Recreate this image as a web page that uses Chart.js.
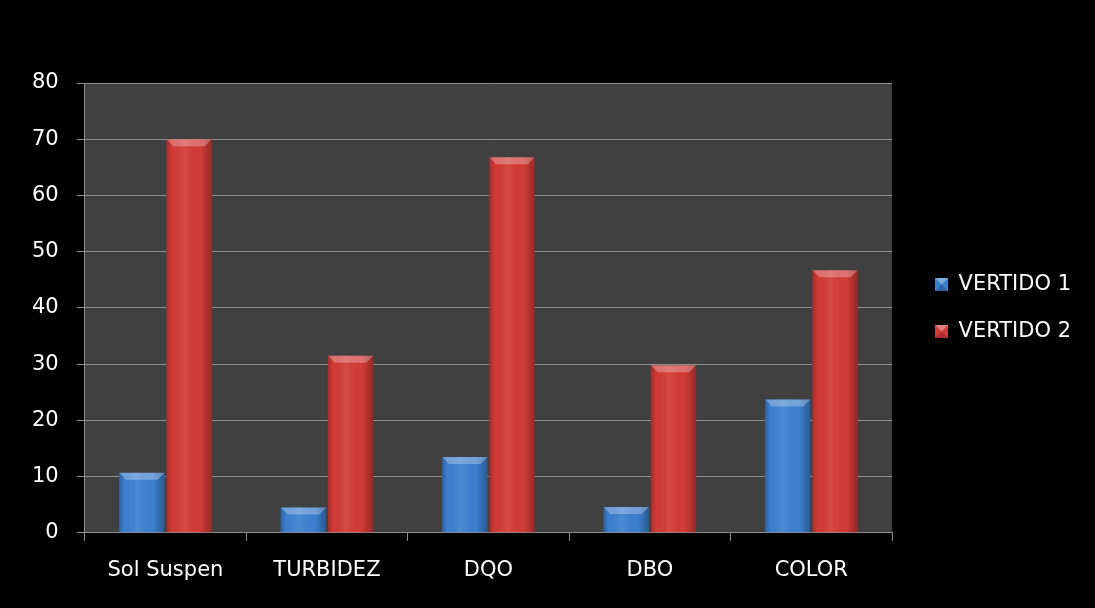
<!DOCTYPE html>
<html>
<head>
<meta charset="utf-8">
<script src="https://cdn.jsdelivr.net/npm/chart.js@4"></script>
<style>
  html, body { margin: 0; padding: 0; background: #000; }
  #wrap { width: 1095px; height: 608px; position: relative; }
</style>
</head>
<body>
<div id="wrap"><canvas id="chart"></canvas></div>
<script>
const categories = ['Sol Suspen', 'TURBIDEZ', 'DQO', 'DBO', 'COLOR'];
const vertido1 = [10.7, 4.5, 13.5, 4.6, 23.7];
const vertido2 = [70, 31.5, 66.8, 29.8, 46.7];
const seriesNames = ['VERTIDO 1', 'VERTIDO 2'];

const BLUE = '#3d80d0';
const RED = '#d23b37';
const GRID = '#8e8e8e';
const FONT = { family: '"DejaVu Sans", sans-serif', size: 21 };

// small bevelled square used as legend marker
function legendIcon(color) {
    const c = document.createElement('canvas');
    c.width = 13; c.height = 13;
    const g = c.getContext('2d');
    g.fillStyle = color;
    g.fillRect(0, 0, 13, 13);
    g.fillStyle = 'rgba(255,255,255,0.35)';
    g.beginPath();
    g.moveTo(0, 0); g.lineTo(13, 0); g.lineTo(6.5, 6.5); g.closePath();
    g.fill();
    g.fillStyle = 'rgba(0,0,0,0.2)';
    g.beginPath();
    g.moveTo(0, 13); g.lineTo(13, 13); g.lineTo(6.5, 6.5); g.closePath();
    g.fill();
    return c;
}

// dark plotting area behind the bars
const plotBackground = {
    id: 'plotBackground',
    beforeDraw(chart) {
        const { ctx, chartArea } = chart;
        ctx.save();
        ctx.fillStyle = '#404040';
        ctx.fillRect(chartArea.left, chartArea.top, chartArea.right - chartArea.left, chartArea.bottom - chartArea.top);
        ctx.restore();
    }
};

// rounded shading + bevelled top on each bar
const barShading = {
    id: 'barShading',
    afterDatasetsDraw(chart) {
        const ctx = chart.ctx;
        chart.data.datasets.forEach((ds, i) => {
            const meta = chart.getDatasetMeta(i);
            meta.data.forEach(bar => {
                const { x, y, width, base } = bar.getProps(['x', 'y', 'width', 'base'], true);
                const l = x - width / 2, r = x + width / 2;
                ctx.save();
                const g = ctx.createLinearGradient(l, 0, r, 0);
                g.addColorStop(0, 'rgba(0,0,0,0.25)');
                g.addColorStop(0.12, 'rgba(0,0,0,0)');
                g.addColorStop(0.4, 'rgba(255,255,255,0.08)');
                g.addColorStop(0.75, 'rgba(0,0,0,0)');
                g.addColorStop(1, 'rgba(0,0,0,0.3)');
                ctx.fillStyle = g;
                ctx.fillRect(l, y, width, base - y);
                const bev = 7;
                ctx.fillStyle = 'rgba(255,255,255,0.28)';
                ctx.beginPath();
                ctx.moveTo(l, y); ctx.lineTo(r, y);
                ctx.lineTo(r - bev, y + bev); ctx.lineTo(l + bev, y + bev);
                ctx.closePath();
                ctx.fill();
                ctx.restore();
            });
        });
    }
};

new Chart(document.getElementById('chart'), {
    type: 'bar',
    data: {
        labels: categories,
        datasets: [
            { label: seriesNames[0], data: vertido1, backgroundColor: BLUE, pointStyle: legendIcon(BLUE) },
            { label: seriesNames[1], data: vertido2, backgroundColor: RED, pointStyle: legendIcon(RED) }
        ]
    },
    options: {
        responsive: true,
        maintainAspectRatio: false,
        animation: false,
        categoryPercentage: 0.585,
        barPercentage: 0.96,
        layout: { padding: { top: 83, left: 14, right: 14, bottom: 8 } },
        plugins: {
            legend: {
                position: 'right',
                fullSize: false,
                labels: {
                    color: '#fff',
                    font: FONT,
                    usePointStyle: true,
                    boxWidth: 13,
                    boxHeight: 13,
                    padding: 26
                }
            },
            tooltip: { enabled: false }
        },
        scales: {
            x: {
                grid: { drawOnChartArea: false, drawTicks: true, tickLength: 8, color: GRID, offset: true },
                border: { color: GRID, width: 1 },
                ticks: { color: '#fff', font: FONT, padding: 17 }
            },
            y: {
                min: 0,
                max: 80,
                grid: { color: GRID, tickLength: 8 },
                border: { color: GRID, width: 1 },
                ticks: { stepSize: 10, color: '#fff', font: FONT, padding: 18 }
            },
            gap: {
                position: 'right',
                display: true,
                grid: { display: false },
                border: { display: false },
                ticks: { display: false },
                afterFit(scale) { scale.width = 17; }
            }
        }
    },
    plugins: [plotBackground, barShading]
});
</script>
</body>
</html>
